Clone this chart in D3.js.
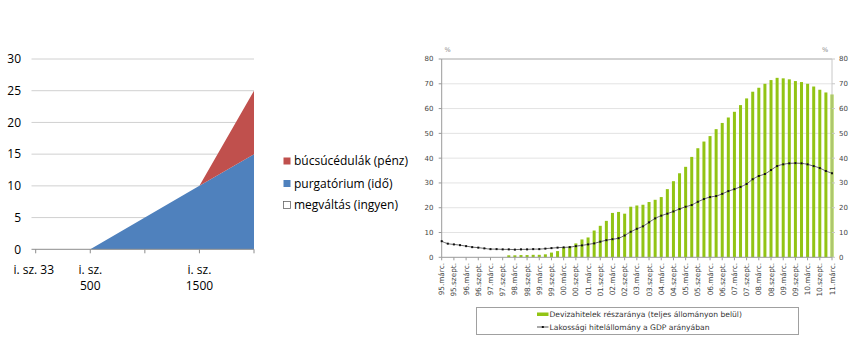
<!DOCTYPE html>
<html><head><meta charset="utf-8">
<script src="https://cdn.jsdelivr.net/npm/d3@7"></script>
<style>body{margin:0;background:#fff}svg{display:block}</style>
</head><body>
<svg id="c" width="862" height="353"></svg>
<script>
// ---------- Left chart data ----------
const leftCategories = [["i. sz. 33"], ["i. sz.", "500"], [""], ["i. sz.", "1500"], [""]];
const leftYTicks = [0, 5, 10, 15, 20, 25, 30];
const megvaltas = [0, 0, 0, 0, 0];
const purgatorium = [0, 0, 5, 10, 15];
const bucsucedulak = [0, 0, 0, 0, 10];
const leftSeriesNames = ["búcsúcédulák (pénz)", "purgatórium (idő)", "megváltás (ingyen)"];

// ---------- Right chart data ----------
const rightTickLabels = ["95.márc.","95.szept.","96.márc.","96.szept.","97.márc.","97.szept.","98.márc.","98.szept.",
  "99.márc.","99.szept.","00.márc.","00.szept.","01.márc.","01.szept.","02.márc.","02.szept.","03.márc.","03.szept.",
  "04.márc.","04.szept.","05.márc.","05.szept.","06.márc.","06.szept.","07.márc.","07.szept.","08.márc.","08.szept.",
  "09.márc.","09.szept.","10.márc.","10.szept.","11.márc."];
const rightYTicks = [0, 10, 20, 30, 40, 50, 60, 70, 80];
// quarterly values, 1995 Q1 .. 2011 Q1
const devizaShare = [0,0,0,0,0,0,0,0,0,0,0,
  0.8,0.8,0.9,0.9,1.0,1.0,1.2,1.9,2.5,4.0,4.4,5.6,7.2,8.0,10.8,12.7,14.7,17.9,18.3,17.6,20.4,20.9,21.2,22.3,23.2,24.3,
  27.5,30.7,33.9,36.5,40.5,44.0,46.7,48.9,51.7,54.2,56.4,58.7,61.4,64.1,66.8,68.4,70.0,71.5,72.4,72.2,71.8,71.1,70.7,
  70.0,68.9,67.6,66.5,65.7];
const lakossagiGDP = [6.5,5.5,5.2,4.9,4.5,4.1,3.9,3.6,3.3,3.3,3.2,3.2,3.1,3.2,3.2,3.3,3.3,3.5,3.7,3.9,4.0,4.1,4.5,4.8,
  5.2,5.6,6.3,6.9,7.3,7.7,8.8,10.3,11.5,12.5,14.1,15.7,16.8,17.6,18.5,19.5,20.4,21.1,22.4,23.5,24.3,24.7,25.6,26.7,
  27.5,28.4,29.6,31.5,32.8,33.6,35.2,36.8,37.5,37.9,38.0,37.9,37.5,36.8,36.0,34.8,33.9];
const rightLegend = ["Devizahitelek részaránya (teljes állományon belül)", "Lakossági hitelállomány a GDP arányában"];

const svg = d3.select("#c");

// ================= LEFT CHART =================
(function(){
  const g = svg.append("g");
  const font = "'Open Sans', 'Liberation Sans', sans-serif";
  const x = d3.scalePoint().domain(d3.range(leftCategories.length)).range([35.7, 254]);
  const y = d3.scaleLinear().domain([0, 30]).range([249.3, 59]);

  g.selectAll("line.grid").data(leftYTicks.filter(d => d > 0)).join("line")
    .attr("x1", 31.5).attr("x2", 254).attr("y1", d => y(d)).attr("y2", d => y(d))
    .attr("stroke", "#d0d0d0").attr("stroke-width", 1);

  const stack = d3.stack().keys(["m", "p", "b"])(leftCategories.map((c, i) => ({m: megvaltas[i], p: purgatorium[i], b: bucsucedulak[i]})));
  const colors = {m: "none", p: "#4f81bd", b: "#c0504d"};
  const area = d3.area().x((d, i) => x(i)).y0(d => y(d[0])).y1(d => y(d[1]));
  g.selectAll("path.area").data(stack).join("path")
    .attr("d", area).attr("fill", d => colors[d.key]).attr("stroke", "none");

  // x axis line with ticks
  g.append("line").attr("x1", 31.5).attr("x2", 254).attr("y1", y(0)).attr("y2", y(0))
    .attr("stroke", "#8c8c8c");
  g.selectAll("line.xt").data(leftCategories).join("line")
    .attr("x1", (d, i) => x(i)).attr("x2", (d, i) => x(i)).attr("y1", y(0)).attr("y2", y(0) + 4)
    .attr("stroke", "#8c8c8c");

  g.selectAll("text.yl").data(leftYTicks).join("text")
    .attr("x", 21).attr("y", d => y(d)).attr("dy", "0.36em").attr("text-anchor", "end")
    .attr("font-family", font).attr("font-size", 12).attr("fill", "#000").text(d => d);

  leftCategories.forEach((lines, i) => {
    lines.forEach((t, j) => {
      g.append("text").attr("x", x(i) - (i === 0 ? 2 : 0)).attr("y", 269.5 + j * 16.5).attr("dy", "0.36em")
        .attr("text-anchor", "middle").attr("font-family", font).attr("font-size", 12)
        .attr("fill", "#000").text(t);
    });
  });

  const legCols = ["#c0504d", "#4f81bd", "#fff"];
  const legY = [161, 183.5, 205];
  leftSeriesNames.forEach((n, i) => {
    g.append("rect").attr("x", 283.5).attr("y", legY[i] - 3.5).attr("width", 7).attr("height", 7)
      .attr("fill", legCols[i]).attr("stroke", i === 2 ? "#666" : "none").attr("stroke-width", 0.8);
    g.append("text").attr("x", 294).attr("y", legY[i]).attr("dy", "0.36em")
      .attr("font-family", font).attr("font-size", 12).attr("fill", "#000").text(n);
  });
})();

// ================= RIGHT CHART =================
(function(){
  const g = svg.append("g");
  const font = "'DejaVu Sans', Verdana, sans-serif";
  const idx = d3.range(devizaShare.length);
  const x = d3.scalePoint().domain(idx).range([441.7, 832]);
  const y = d3.scaleLinear().domain([0, 80]).range([257.3, 59]);
  const xl = 441.7, xr = 832;

  g.selectAll("line.grid").data(rightYTicks.filter(d => d > 0 && d < 80)).join("line")
    .attr("x1", xl).attr("x2", xr).attr("y1", d => y(d)).attr("y2", d => y(d))
    .attr("stroke", "#e3e3e3");

  // bars
  g.selectAll("rect.bar").data(devizaShare).join("rect")
    .attr("x", (d, i) => x(i) - 1.5).attr("width", 3)
    .attr("y", d => y(d)).attr("height", d => y(0) - y(d))
    .attr("fill", "#92c414");

  // frame
  g.append("line").attr("x1", xl).attr("x2", xr).attr("y1", y(80)).attr("y2", y(80)).attr("stroke", "#a6a6a6");
  g.append("line").attr("x1", xl).attr("x2", xr).attr("y1", y(0)).attr("y2", y(0)).attr("stroke", "#9a9a9a");
  g.append("line").attr("x1", xl).attr("x2", xl).attr("y1", y(80)).attr("y2", y(0)).attr("stroke", "#9a9a9a");
  g.append("line").attr("x1", xr).attr("x2", xr).attr("y1", y(80)).attr("y2", y(0)).attr("stroke", "#c8c8c8");
  g.selectAll("line.ytl").data(rightYTicks).join("line")
    .attr("x1", xl - 3).attr("x2", xl).attr("y1", d => y(d)).attr("y2", d => y(d)).attr("stroke", "#9a9a9a");
  g.selectAll("line.ytr").data(rightYTicks).join("line")
    .attr("x1", xr).attr("x2", xr + 3).attr("y1", d => y(d)).attr("y2", d => y(d)).attr("stroke", "#c8c8c8");

  // line series
  const line = d3.line().x((d, i) => x(i)).y(d => y(d)).curve(d3.curveMonotoneX);
  g.append("path").datum(lakossagiGDP).attr("d", line).attr("fill", "none")
    .attr("stroke", "#6a6a6a").attr("stroke-width", 1);
  g.selectAll("rect.mk").data(lakossagiGDP).join("rect")
    .attr("x", (d, i) => x(i) - 1).attr("y", d => y(d) - 1).attr("width", 2).attr("height", 2)
    .attr("fill", "#111");

  // x ticks + labels
  const tickIdx = rightTickLabels.map((t, k) => k * 2);
  g.selectAll("line.xt").data(tickIdx).join("line")
    .attr("x1", d => x(d)).attr("x2", d => x(d)).attr("y1", y(0)).attr("y2", y(0) + 3)
    .attr("stroke", "#9a9a9a");
  g.selectAll("text.xl").data(rightTickLabels).join("text")
    .attr("transform", (t, k) => `translate(${x(k * 2) + 2.6},263) rotate(-90)`)
    .attr("text-anchor", "end").attr("font-family", font).attr("font-size", 7.3)
    .attr("fill", "#444").text(t => t);

  // y labels
  g.selectAll("text.yl").data(rightYTicks).join("text")
    .attr("x", 433.5).attr("y", d => y(d)).attr("dy", "0.35em").attr("text-anchor", "end")
    .attr("font-family", font).attr("font-size", 7).attr("fill", "#444").text(d => d);
  g.selectAll("text.yr").data(rightYTicks).join("text")
    .attr("x", 839).attr("y", d => y(d)).attr("dy", "0.35em").attr("text-anchor", "start")
    .attr("font-family", font).attr("font-size", 7).attr("fill", "#444").text(d => d);
  g.append("text").attr("x", 447.5).attr("y", 50).attr("dy", "0.35em").attr("text-anchor", "middle")
    .attr("font-family", font).attr("font-size", 6.5).attr("fill", "#888").text("%");
  g.append("text").attr("x", 825).attr("y", 50).attr("dy", "0.35em").attr("text-anchor", "middle")
    .attr("font-family", font).attr("font-size", 6.5).attr("fill", "#888").text("%");

  // legend
  g.append("rect").attr("x", 476.5).attr("y", 307.5).attr("width", 322).attr("height", 27)
    .attr("fill", "#fff").attr("stroke", "#a0a0a0");
  g.append("rect").attr("x", 537).attr("y", 312.5).attr("width", 11.5).attr("height", 3.5).attr("fill", "#92c414");
  g.append("line").attr("x1", 537).attr("x2", 548.5).attr("y1", 327).attr("y2", 327).attr("stroke", "#555");
  g.append("rect").attr("x", 541.8).attr("y", 326).attr("width", 2).attr("height", 2).attr("fill", "#111");
  g.append("text").attr("x", 549.5).attr("y", 314.5).attr("dy", "0.35em")
    .attr("font-family", font).attr("font-size", 7.6).attr("fill", "#333").text(rightLegend[0]);
  g.append("text").attr("x", 549.5).attr("y", 327).attr("dy", "0.35em")
    .attr("font-family", font).attr("font-size", 7.6).attr("fill", "#333").text(rightLegend[1]);
})();
</script>
</body></html>
